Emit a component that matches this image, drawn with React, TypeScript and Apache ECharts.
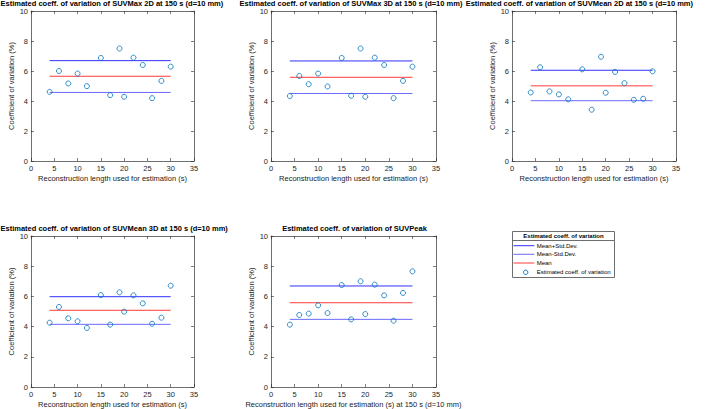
import React, { useEffect, useRef } from "react";
import * as echarts from "echarts";

const lengths = [4, 6, 8, 10, 12, 15, 17, 19, 20, 22, 24, 26, 28, 30];
const suvMax2D = [4.61, 6.0, 5.17, 5.83, 4.99, 6.87, 4.39, 7.5, 4.28, 6.89, 6.4, 4.19, 5.34, 6.29];
const suvMax3D = [4.33, 5.67, 5.12, 5.83, 4.97, 6.87, 4.35, 7.5, 4.28, 6.89, 6.4, 4.19, 5.34, 6.29];
const suvMean2D = [4.57, 6.25, 4.64, 4.44, 4.11, 6.11, 3.42, 6.95, 4.55, 5.94, 5.19, 4.08, 4.15, 5.98];
const suvMean3D = [4.26, 5.3, 4.55, 4.35, 3.91, 6.09, 4.13, 6.27, 4.99, 6.07, 5.54, 4.19, 4.59, 6.71];
const suvPeak = [4.13, 4.77, 4.86, 5.41, 4.9, 6.75, 4.48, 7.0, 4.83, 6.78, 6.07, 4.39, 6.23, 7.66];

const upperValues = [6.69, 6.67, 6.05, 5.98, 6.69];
const meanValues = [5.65, 5.58, 5.01, 5.08, 5.58];
const lowerValues = [4.57, 4.5, 4.02, 4.15, 4.48];

const titles = [
  "Estimated coeff. of variation of SUVMax 2D at 150 s (d=10 mm)",
  "Estimated coeff. of variation of SUVMax 3D at 150 s (d=10 mm)",
  "Estimated coeff. of variation of SUVMean 2D at 150 s (d=10 mm)",
  "Estimated coeff. of variation of SUVMean 3D at 150 s (d=10 mm)",
  "Estimated coeff. of variation of SUVPeak",
];
const xNames = [
  "Reconstruction length used for estimation (s)",
  "Reconstruction length used for estimation (s)",
  "Reconstruction length used for estimation (s)",
  "Reconstruction length used for estimation (s)",
  "Reconstruction length used for estimation (s) at 150 s (d=10 mm)",
];
const yName = "Coefficient of variation (%)";
const seriesNames = ["Mean+Std.Dev.", "Mean-Std.Dev.", "Mean", "Estimated coeff. of variation"];
const legendTitle = "Estimated coeff. of variation";

const FONT = "Liberation Sans, Arial, Helvetica, sans-serif";
const AX = "#262626";
const BOX = "#6e6e6e";
const C_UP = "#3030ff";
const C_LO = "#6a6aff";
const C_MEAN = "#ff3a3a";
const C_PT = "#0072BD";
const lineColors = [C_UP, C_LO, C_MEAN];

const grids = [
  { left: 31, top: 11, width: 163, height: 150 },
  { left: 271, top: 11, width: 165, height: 150 },
  { left: 512, top: 11, width: 164, height: 150 },
  { left: 31, top: 236, width: 163, height: 151 },
  { left: 271, top: 236, width: 165, height: 151 },
];
// title anchoring (kept inside the figure like the reference)
const titleAnchor: { x: number; y: number; align: string }[] = [
  { x: 0.5, y: 7.3, align: "left" },
  { x: 351, y: 7.3, align: "center" },
  { x: 693, y: 7.3, align: "right" },
  { x: 0.5, y: 232.3, align: "left" },
  { x: 354.5, y: 232.3, align: "center" },
];

export default function App() {
  const ref = useRef<HTMLDivElement>(null);
  useEffect(() => {
    if (!ref.current) return;
    const chart = echarts.init(ref.current, null, { renderer: "svg" });
    const data = [suvMax2D, suvMax3D, suvMean2D, suvMean3D, suvPeak];
    const xAxis: any[] = [];
    const yAxis: any[] = [];
    const series: any[] = [];
    const graphic: any[] = [];
    grids.forEach((g, i) => {
      const tick = { show: true, inside: true, length: 3, lineStyle: { color: AX, width: 0.6 } };
      const line = { show: true, onZero: false, lineStyle: { color: BOX, width: 1 } };
      xAxis.push({
        type: "value", gridIndex: i, min: 0, max: 35, interval: 5,
        position: "bottom",
        axisLine: line, axisTick: tick, splitLine: { show: false },
        axisLabel: { color: AX, fontSize: 7.5, fontFamily: FONT, margin: 3 },
      });
      xAxis.push({
        type: "value", gridIndex: i, min: 0, max: 35, interval: 5,
        position: "top",
        axisLine: line, axisTick: tick, splitLine: { show: false },
        axisLabel: { show: false },
      });
      yAxis.push({
        type: "value", gridIndex: i, min: 0, max: 10, interval: 2,
        position: "left",
        axisLine: line, axisTick: tick, splitLine: { show: false },
        axisLabel: { color: AX, fontSize: 7.5, lineHeight: 7, fontFamily: FONT, margin: 3 },
        name: yName, nameLocation: "middle", nameGap: 13,
        nameTextStyle: { color: AX, fontSize: 7.5, fontFamily: FONT },
      });
      yAxis.push({
        type: "value", gridIndex: i, min: 0, max: 10, interval: 2,
        position: "right",
        axisLine: line, axisTick: tick, splitLine: { show: false },
        axisLabel: { show: false },
      });
      const x0 = lengths[0];
      const x1 = lengths[lengths.length - 1];
      const mk = (name: string, v: number, color: string) => ({
        type: "line", name, xAxisIndex: i * 2, yAxisIndex: i * 2,
        data: [[x0, v], [x1, v]], symbol: "none",
        lineStyle: { color, width: 1 }, itemStyle: { color }, z: 2,
      });
      series.push(mk(seriesNames[0], upperValues[i], C_UP));
      series.push(mk(seriesNames[1], lowerValues[i], C_LO));
      series.push(mk(seriesNames[2], meanValues[i], C_MEAN));
      series.push({
        type: "scatter", name: seriesNames[3], xAxisIndex: i * 2, yAxisIndex: i * 2,
        data: lengths.map((x, k) => [x, data[i][k]]),
        symbol: "circle", symbolSize: 5,
        itemStyle: { color: "rgba(255,255,255,0)", borderColor: C_PT, borderWidth: 1 },
        z: 3,
      });
      graphic.push({
        type: "text",
        x: titleAnchor[i].x,
        y: titleAnchor[i].y,
        style: {
          text: titles[i], fill: "#000", font: `bold 7.5px ${FONT}`,
          textAlign: titleAnchor[i].align, textVerticalAlign: "bottom",
        },
      });
      graphic.push({
        type: "text",
        x: g.left + g.width / 2,
        y: g.top + g.height + 17.5,
        style: {
          text: xNames[i], fill: "#1a1a1a", font: `7.5px ${FONT}`,
          textAlign: "center", textVerticalAlign: "middle",
        },
      });
    });
    // legend
    graphic.push({
      type: "rect",
      shape: { x: 512.5, y: 231.5, width: 102, height: 46 },
      style: { fill: "#fff", stroke: BOX, lineWidth: 1 },
      z: -1,
    });
    graphic.push({
      type: "line",
      shape: { x1: 512.5, y1: 240.5, x2: 614.5, y2: 240.5 },
      style: { stroke: BOX, lineWidth: 1 },
    });
    graphic.push({
      type: "text", x: 563.5, y: 236.2,
      style: {
        text: legendTitle, fill: "#000", font: `bold 6px ${FONT}`,
        textAlign: "center", textVerticalAlign: "middle",
      },
    });
    const itemY = [245.7, 254.3, 263, 272.3];
    seriesNames.forEach((name, k) => {
      if (k < 3) {
        graphic.push({
          type: "line",
          shape: { x1: 513.5, y1: itemY[k], x2: 534.3, y2: itemY[k] },
          style: { stroke: lineColors[k], lineWidth: 1 },
        });
      } else {
        graphic.push({
          type: "circle",
          shape: { cx: 525.7, cy: itemY[k], r: 2.2 },
          style: { fill: "none", stroke: C_PT, lineWidth: 1 },
        });
      }
      graphic.push({
        type: "text", x: 536.7, y: itemY[k],
        style: {
          text: name, fill: "#000", font: `6px ${FONT}`,
          textAlign: "left", textVerticalAlign: "middle",
        },
      });
    });

    chart.setOption({
      animation: false,
      backgroundColor: "#fff",
      grid: grids.map((g) => ({ ...g, containLabel: false })),
      xAxis, yAxis, series,
      graphic,
    });
    return () => chart.dispose();
  }, []);
  return (
    <div
      ref={ref}
      style={{ position: "absolute", left: 0, top: 0, width: 708, height: 409 }}
    />
  );
}
